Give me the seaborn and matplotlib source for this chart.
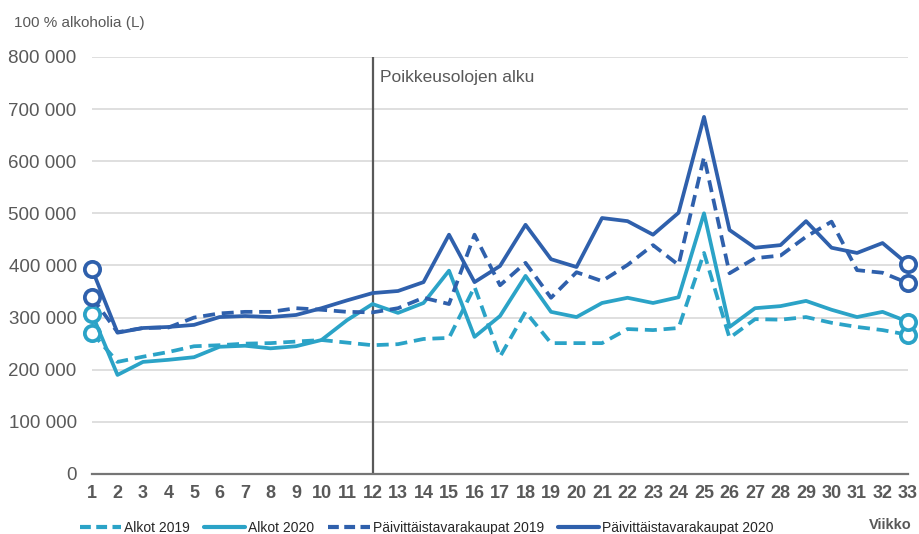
import matplotlib
matplotlib.use("Agg")
import matplotlib.pyplot as plt
import seaborn as sns
import numpy as np
from matplotlib.lines import Line2D
from matplotlib.ticker import FuncFormatter

weeks = list(range(1, 34))

alkot_2019 = [271000, 215000, 225000, 234000, 245000, 247000, 250000, 251000, 254000, 257000,
              252000, 247000, 249000, 259000, 261000, 359000, 225000, 311000, 251000, 251000,
              251000, 278000, 276000, 280000, 424000, 261000, 297000, 296000, 301000, 290000,
              282000, 276000, 267000]
alkot_2020 = [307000, 190000, 215000, 219000, 224000, 244000, 246000, 241000, 245000, 257000,
              295000, 326000, 309000, 328000, 390000, 263000, 303000, 380000, 311000, 301000,
              328000, 338000, 328000, 339000, 500000, 282000, 318000, 322000, 332000, 315000,
              301000, 311000, 292000]
pt_2019 = [339000, 272000, 280000, 281000, 300000, 308000, 311000, 311000, 318000, 315000,
           311000, 310000, 318000, 338000, 326000, 459000, 362000, 405000, 338000, 387000,
           370000, 401000, 439000, 401000, 608000, 385000, 414000, 419000, 455000, 484000,
           391000, 386000, 366000]
pt_2020 = [393000, 271000, 280000, 282000, 286000, 301000, 303000, 301000, 305000, 318000,
           333000, 347000, 351000, 368000, 459000, 368000, 399000, 478000, 412000, 397000,
           491000, 485000, 459000, 501000, 685000, 468000, 434000, 439000, 485000, 434000,
           424000, 443000, 402000]

labels = ["Alkot 2019", "Alkot 2020", "Päivittäistavarakaupat 2019", "Päivittäistavarakaupat 2020"]
series = [alkot_2019, alkot_2020, pt_2019, pt_2020]

light = "#2BA3C7"
dark = "#2F60AC"
colors = [light, light, dark, dark]
dashed = [True, False, True, False]
grey = "#595959"

sns.set_style("white")
plt.rcParams["font.family"] = ["Liberation Sans", "DejaVu Sans"]

fig = plt.figure(figsize=(9.2, 5.34), dpi=100)
ax = fig.add_axes([0.1, 0.1124, 0.887, 0.781])

lw = 2.7
for vals, lab, c, d in zip(series, labels, colors, dashed):
    ls = (0, (3.2, 1.8)) if d else "-"
    sns.lineplot(x=weeks, y=vals, ax=ax, color=c, lw=lw, linestyle=ls,
                 marker="o", markevery=[0, len(vals) - 1], ms=11,
                 mfc="white", mec=c, mew=lw, clip_on=False, zorder=3)

# start of state of emergency
ax.axvline(12, color=grey, lw=1.6, zorder=2)
ax.text(12.3, 760000, "Poikkeusolojen alku", fontsize=12.5, color=grey,
        va="center", ha="left")

ax.set_xlim(1, 33)
ax.set_ylim(0, 800000)
ax.set_yticks(np.arange(0, 800001, 100000))
ax.yaxis.set_major_formatter(FuncFormatter(lambda v, p: f"{int(v):,}".replace(",", " ")))
ax.set_xticks(weeks)
ax.set_xticklabels([str(w) for w in weeks], fontsize=13, fontweight="bold", color=grey)
ax.tick_params(axis="y", length=0, pad=11, labelsize=13.5, labelcolor=grey)
ax.tick_params(axis="x", length=0, pad=8)
ax.grid(axis="y", color="#D9D9D9", lw=1.2)
ax.grid(axis="x", visible=False)
ax.set_axisbelow(True)
for s in ["top", "right", "left"]:
    ax.spines[s].set_visible(False)
ax.spines["bottom"].set_color("#757575")
ax.spines["bottom"].set_linewidth(1.6)
ax.set_xlabel("")
ax.set_ylabel("")

fig.text(0.015, 0.957, "100 % alkoholia (L)", fontsize=11, color=grey, va="center")
fig.text(0.991, 0.017, "Viikko", fontsize=10.5, color=grey, fontweight="bold",
         ha="right", va="center")

handles = [Line2D([], [], color=c, lw=3, linestyle=(0, (2.6, 1.3)) if d else "-")
           for c, d in zip(colors, dashed)]
fig.legend(handles, labels, loc="center", bbox_to_anchor=(0.4636, 0.011), ncol=4,
           frameon=False, handlelength=3.0, handletextpad=0.2, columnspacing=1.0,
           borderpad=0, prop={"size": 10})

fig.savefig("out.png", dpi=100)
